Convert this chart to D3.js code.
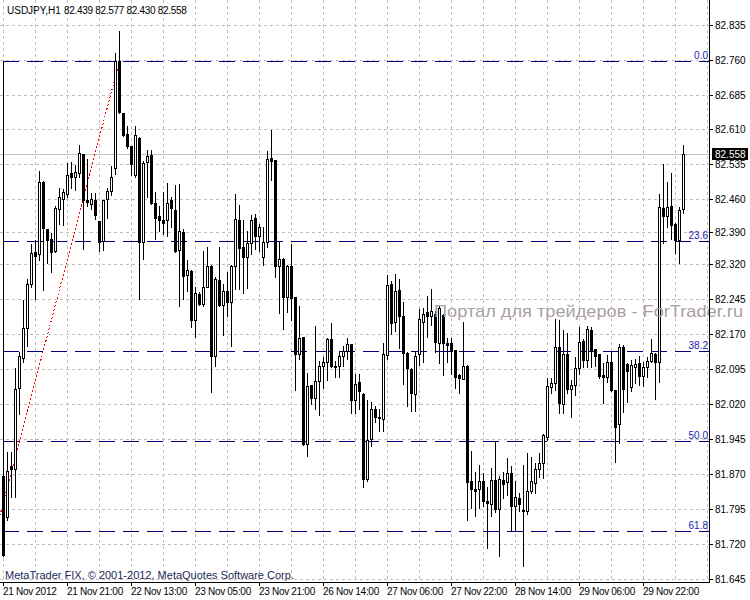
<!DOCTYPE html>
<html>
<head>
<meta charset="utf-8">
<script src="https://cdn.jsdelivr.net/npm/d3@7"></script>
<style>
  body { margin: 0; background: #fff; }
  svg { display: block; }
  text { font-family: "Liberation Sans", Arial, sans-serif; }
</style>
</head>
<body>
<svg id="chart" width="750" height="600"></svg>
<script>
// USDJPY H1 bars (bar 0 = 21 Nov 2012 05:00)
var open = [
  81.865, 81.777, 81.887, 81.881, 82.055, 82.119, 82.183, 82.278, 82.347, 82.342,
  82.497, 82.396, 82.375, 82.349, 82.439, 82.461, 82.471, 82.516, 82.508, 82.516,
  82.557, 82.458, 82.450, 82.458, 82.413, 82.370, 82.461, 82.478, 82.527, 82.757,
  82.645, 82.600, 82.574, 82.512, 82.592, 82.368, 82.540, 82.555, 82.452, 82.424,
  82.415, 82.415, 82.458, 82.437, 82.351, 82.390, 82.297, 82.306, 82.201, 82.256,
  82.235, 82.272, 82.317, 82.123, 82.287, 82.233, 82.263, 82.239, 82.317, 82.415,
  82.357, 82.336, 82.366, 82.420, 82.381, 82.336, 82.368, 82.549, 82.544, 82.317,
  82.332, 82.250, 82.317, 82.250, 82.127, 82.164, 81.934, 82.061, 82.033, 82.070,
  82.102, 82.110, 82.160, 82.102, 82.102, 82.123, 82.134, 82.149, 82.029, 82.067,
  82.042, 81.859, 81.945, 82.009, 81.990, 81.988, 82.125, 82.278, 82.196, 82.265,
  82.209, 82.130, 82.096, 82.042, 82.127, 82.196, 82.218, 82.209, 82.214, 82.151,
  82.212, 82.151, 82.151, 82.136, 82.082, 82.074, 82.102, 81.855, 81.838, 81.838,
  81.855, 81.812, 81.805, 81.857, 81.795, 81.857, 81.853, 81.872, 81.801, 81.818,
  81.790, 81.790, 81.833, 81.851, 81.881, 81.893, 81.949, 82.057, 82.065, 82.143,
  82.020, 82.127, 82.053, 82.061, 82.098, 82.155, 82.115, 82.179, 82.138, 82.127,
  82.082, 82.078, 82.110, 82.050, 81.977, 82.143, 82.106, 82.057, 82.100, 82.108,
  82.080, 82.100, 82.113, 82.127, 82.110, 82.441, 82.424, 82.446, 82.407, 82.372,
  82.439
];
var high = [
  82.757, 81.917, 81.917, 82.098, 82.132, 82.244, 82.289, 82.364, 82.372, 82.521,
  82.499, 82.397, 82.388, 82.446, 82.484, 82.482, 82.538, 82.540, 82.533, 82.576,
  82.558, 82.547, 82.474, 82.474, 82.414, 82.459, 82.484, 82.531, 82.774, 82.821,
  82.646, 82.617, 82.575, 82.617, 82.593, 82.542, 82.566, 82.566, 82.476, 82.446,
  82.476, 82.495, 82.465, 82.491, 82.493, 82.396, 82.330, 82.307, 82.272, 82.261,
  82.349, 82.357, 82.318, 82.293, 82.357, 82.278, 82.304, 82.318, 82.471, 82.448,
  82.415, 82.392, 82.426, 82.428, 82.407, 82.400, 82.564, 82.609, 82.545, 82.368,
  82.333, 82.318, 82.364, 82.251, 82.231, 82.165, 82.087, 82.062, 82.188, 82.113,
  82.121, 82.162, 82.194, 82.113, 82.132, 82.145, 82.162, 82.150, 82.084, 82.084,
  82.043, 82.029, 82.024, 82.016, 82.009, 82.151, 82.297, 82.284, 82.299, 82.289,
  82.239, 82.131, 82.097, 82.134, 82.224, 82.226, 82.252, 82.267, 82.220, 82.231,
  82.213, 82.162, 82.162, 82.137, 82.084, 82.196, 82.103, 81.919, 81.874, 81.889,
  81.872, 81.842, 81.883, 81.941, 81.865, 81.874, 81.904, 81.887, 81.855, 81.829,
  81.889, 81.915, 81.906, 81.893, 81.915, 81.955, 82.076, 82.076, 82.203, 82.201,
  82.179, 82.172, 82.072, 82.121, 82.186, 82.160, 82.188, 82.186, 82.139, 82.128,
  82.108, 82.125, 82.132, 82.051, 82.149, 82.147, 82.108, 82.115, 82.117, 82.123,
  82.110, 82.121, 82.160, 82.130, 82.471, 82.536, 82.497, 82.516, 82.408, 82.443,
  82.577
];
var low = [
  81.694, 81.771, 81.820, 81.820, 81.998, 82.110, 82.145, 82.272, 82.246, 82.330,
  82.265, 82.323, 82.304, 82.347, 82.407, 82.404, 82.465, 82.484, 82.480, 82.508,
  82.353, 82.446, 82.439, 82.418, 82.349, 82.351, 82.420, 82.469, 82.514, 82.646,
  82.596, 82.570, 82.512, 82.508, 82.246, 82.332, 82.465, 82.450, 82.375, 82.392,
  82.385, 82.381, 82.400, 82.347, 82.231, 82.246, 82.263, 82.186, 82.164, 82.233,
  82.231, 82.271, 82.046, 82.102, 82.231, 82.168, 82.209, 82.145, 82.267, 82.267,
  82.259, 82.269, 82.342, 82.353, 82.349, 82.319, 82.357, 82.501, 82.293, 82.216,
  82.181, 82.218, 82.201, 82.050, 82.117, 81.932, 81.908, 82.020, 82.009, 81.996,
  82.055, 82.072, 82.100, 82.078, 82.078, 82.102, 82.117, 82.001, 82.001, 82.009,
  81.842, 81.855, 81.930, 81.981, 81.962, 81.962, 82.117, 82.170, 82.177, 82.141,
  82.063, 82.016, 82.005, 82.005, 82.104, 82.110, 82.164, 82.190, 82.132, 82.108,
  82.082, 82.110, 82.084, 82.055, 82.044, 82.073, 81.771, 81.797, 81.779, 81.797,
  81.801, 81.711, 81.779, 81.788, 81.694, 81.818, 81.825, 81.750, 81.750, 81.790,
  81.672, 81.783, 81.829, 81.829, 81.863, 81.861, 81.943, 82.044, 82.050, 82.001,
  82.001, 82.044, 81.992, 82.039, 82.084, 82.100, 82.100, 82.100, 82.102, 82.076,
  82.022, 82.067, 82.049, 81.896, 81.936, 82.003, 82.024, 82.048, 82.065, 82.061,
  82.059, 82.078, 82.110, 82.031, 82.067, 82.366, 82.400, 82.375, 82.345, 82.323,
  82.430
];
var close = [
  81.696, 81.876, 81.881, 82.053, 82.123, 82.183, 82.278, 82.345, 82.338, 82.497,
  82.398, 82.372, 82.347, 82.441, 82.465, 82.476, 82.512, 82.508, 82.519, 82.559,
  82.458, 82.454, 82.461, 82.426, 82.368, 82.458, 82.478, 82.508, 82.757, 82.647,
  82.598, 82.574, 82.536, 82.598, 82.368, 82.538, 82.553, 82.452, 82.420, 82.415,
  82.409, 82.452, 82.441, 82.349, 82.392, 82.295, 82.308, 82.201, 82.259, 82.235,
  82.272, 82.317, 82.123, 82.289, 82.233, 82.263, 82.239, 82.317, 82.418, 82.355,
  82.336, 82.366, 82.415, 82.381, 82.400, 82.368, 82.547, 82.542, 82.317, 82.332,
  82.250, 82.317, 82.248, 82.127, 82.162, 81.934, 82.059, 82.033, 82.070, 82.102,
  82.110, 82.160, 82.102, 82.100, 82.123, 82.134, 82.149, 82.029, 82.063, 82.048,
  81.859, 81.943, 82.009, 81.992, 81.992, 82.127, 82.276, 82.194, 82.263, 82.209,
  82.130, 82.098, 82.044, 82.123, 82.203, 82.214, 82.209, 82.220, 82.153, 82.226,
  82.151, 82.147, 82.134, 82.078, 82.076, 82.102, 81.853, 81.838, 81.833, 81.855,
  81.812, 81.807, 81.857, 81.795, 81.859, 81.848, 81.872, 81.801, 81.820, 81.805,
  81.792, 81.833, 81.855, 81.881, 81.893, 81.953, 82.059, 82.065, 82.143, 82.022,
  82.127, 82.053, 82.061, 82.098, 82.153, 82.115, 82.181, 82.134, 82.123, 82.080,
  82.078, 82.110, 82.050, 81.971, 82.143, 82.053, 82.091, 82.104, 82.106, 82.080,
  82.100, 82.113, 82.130, 82.110, 82.443, 82.424, 82.443, 82.404, 82.372, 82.437,
  82.558
];

// price scale labels (right) and time labels (bottom, one every 16 bars)
var priceTicks = [82.835, 82.760, 82.685, 82.610, 82.535, 82.460, 82.390, 82.320, 82.245,
                  82.170, 82.095, 82.020, 81.945, 81.870, 81.795, 81.720, 81.645];
var timeLabels = ["21 Nov 2012", "21 Nov 21:00", "22 Nov 13:00", "23 Nov 05:00", "23 Nov 21:00",
                  "26 Nov 14:00", "27 Nov 06:00", "27 Nov 22:00", "28 Nov 14:00", "29 Nov 06:00",
                  "29 Nov 22:00"];
var labelEvery = 16;
var gridEvery = 8;

// Fibonacci retracement object
var fibLevels = ["0.0", "23.6", "38.2", "50.0", "61.8"];
var fibPrices = [82.757, 82.371, 82.133, 81.940, 81.747];
var fibAnchorBars = [-21, 29];          // trend line of the fibo object
var fibAnchorPrices = [81.123, 82.757];

var title = "USDJPY,H1";
var titleValues = "82.439 82.577 82.430 82.558";

var plotRight = 709, plotBottom = 582;
var n = close.length;

var svg = d3.select('#chart').attr('shape-rendering', 'crispEdges');

// one bar every 4 px, price axis linear
var x = d3.scaleLinear().domain([0, n - 1]).range([3, 3 + 4 * (n - 1)]);
var y = d3.scaleLinear().domain([81.645, 82.835]).range([578.6, 24.7]);
function py(p){ return Math.round(y(p)); }

svg.append('defs').append('clipPath').attr('id', 'plot')
   .append('rect').attr('x', 0).attr('y', 0).attr('width', plotRight).attr('height', plotBottom);

var back = svg.append('g').attr('clip-path', 'url(#plot)');

// grid
back.selectAll('line.gh').data(priceTicks).enter().append('line')
    .attr('x1', 0).attr('x2', plotRight)
    .attr('y1', d => py(d) + 0.5).attr('y2', d => py(d) + 0.5)
    .attr('stroke', '#c0c0c0').attr('stroke-dasharray', '3,3');

back.selectAll('line.gv').data(d3.range(0, n + gridEvery, gridEvery)).enter().append('line')
    .attr('x1', d => x(d) + 0.5).attr('x2', d => x(d) + 0.5)
    .attr('y1', 0).attr('y2', plotBottom)
    .attr('stroke', '#c0c0c0').attr('stroke-dasharray', '3,3');

// last price line
back.append('line')
    .attr('x1', 0).attr('x2', plotRight)
    .attr('y1', py(close[n - 1]) + 0.5).attr('y2', py(close[n - 1]) + 0.5)
    .attr('stroke', '#c0c0c0');

// fibo levels
back.selectAll('line.fib').data(fibPrices).enter().append('line')
    .attr('x1', x(0)).attr('x2', plotRight)
    .attr('y1', d => py(d) + 0.5).attr('y2', d => py(d) + 0.5)
    .attr('stroke', '#000080').attr('stroke-dasharray', '16,8');

// fibo trend line (red dotted)
back.append('line')
    .attr('x1', x(fibAnchorBars[0]) + 0.5).attr('y1', y(fibAnchorPrices[0]))
    .attr('x2', x(fibAnchorBars[1]) + 0.5).attr('y2', y(fibAnchorPrices[1]))
    .attr('stroke', '#ff0000').attr('stroke-dasharray', '2,2');

// candles
var bars = back.append('g').selectAll('g').data(d3.range(n)).enter().append('g');

bars.append('rect')
    .attr('x', i => x(i)).attr('width', 1)
    .attr('y', i => py(high[i]))
    .attr('height', i => py(low[i]) - py(high[i]) + 1)
    .attr('fill', '#000');

bars.append('rect')
    .attr('x', i => x(i) - 1).attr('width', 3)
    .attr('y', i => py(Math.max(open[i], close[i])))
    .attr('height', i => Math.abs(py(open[i]) - py(close[i])) + 1)
    .attr('fill', '#000');

// hollow inside of rising candles
bars.filter(i => close[i] > open[i] && py(open[i]) - py(close[i]) > 1)
    .append('rect')
    .attr('x', i => x(i)).attr('width', 1)
    .attr('y', i => py(close[i]) + 1)
    .attr('height', i => py(open[i]) - py(close[i]) - 1)
    .attr('fill', '#fff');

// fibo level captions
svg.selectAll('text.fib').data(fibLevels).enter().append('text')
    .attr('x', plotRight - 1).attr('y', (d, i) => py(fibPrices[i]) - 2)
    .attr('text-anchor', 'end').attr('font-size', 10).attr('fill', '#2222b0')
    .text(d => d);

// watermark
svg.append('text')
    .attr('x', 434).attr('y', 317)
    .attr('font-size', 17).attr('fill', '#aaa0a0')
    .attr('textLength', 309).attr('lengthAdjust', 'spacingAndGlyphs')
    .text('Портал для трейдеров - ForTrader.ru');

// frame
svg.append('line').attr('x1', plotRight + 0.5).attr('x2', plotRight + 0.5)
   .attr('y1', 0).attr('y2', plotBottom + 1).attr('stroke', '#000');
svg.append('line').attr('x1', 0).attr('x2', plotRight + 1)
   .attr('y1', plotBottom + 0.5).attr('y2', plotBottom + 0.5).attr('stroke', '#000');

// price axis
svg.selectAll('line.pt').data(priceTicks).enter().append('line')
    .attr('x1', plotRight).attr('x2', plotRight + 4)
    .attr('y1', d => py(d) + 0.5).attr('y2', d => py(d) + 0.5)
    .attr('stroke', '#000');
svg.selectAll('text.pl').data(priceTicks).enter().append('text')
    .attr('x', 715).attr('y', d => py(d) + 4)
    .attr('font-size', 10).attr('fill', '#000')
    .text(d => d3.format('.3f')(d));

// current price box
var lastY = py(close[n - 1]);
svg.append('rect').attr('x', 712).attr('y', lastY - 6).attr('width', 36).attr('height', 12).attr('fill', '#000');
svg.append('text').attr('x', 715).attr('y', lastY + 4)
   .attr('font-size', 10).attr('fill', '#fff').text(d3.format('.3f')(close[n - 1]));

// time axis
var tIdx = timeLabels.map((d, i) => i * labelEvery);
svg.selectAll('line.tt').data(tIdx).enter().append('line')
    .attr('x1', d => x(d) + 0.5).attr('x2', d => x(d) + 0.5)
    .attr('y1', plotBottom).attr('y2', plotBottom + 4)
    .attr('stroke', '#000');
svg.selectAll('text.tl').data(timeLabels).enter().append('text')
    .attr('x', (d, i) => x(tIdx[i])).attr('y', 595)
    .attr('font-size', 10).attr('letter-spacing', '-0.3').attr('fill', '#000')
    .text(d => d);

// header and footer text
svg.append('text').attr('x', 7).attr('y', 14).attr('font-size', 10).attr('fill', '#000').text(title);
svg.append('text').attr('x', 64).attr('y', 14).attr('font-size', 10).attr('letter-spacing', '-0.3')
   .attr('fill', '#000').text(titleValues);
svg.append('text').attr('x', 5).attr('y', 579).attr('font-size', 11).attr('fill', '#1c2a5c')
   .text('MetaTrader FIX, © 2001-2012, MetaQuotes Software Corp.');
</script>
</body>
</html>
